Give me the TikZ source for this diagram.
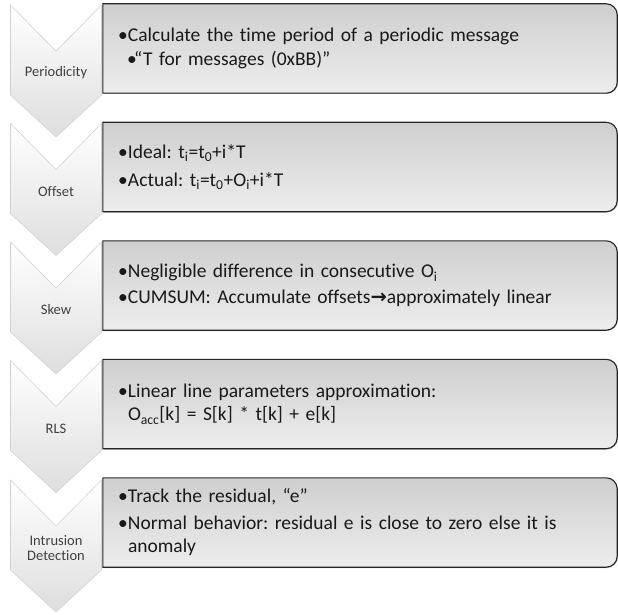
\documentclass[tikz,border=0pt]{standalone}
\usepackage{fontspec}
\setmainfont[Ligatures=NoCommon]{Carlito}
\newfontfamily\arrowfont{DejaVu Sans}
\usetikzlibrary{positioning,backgrounds,shadows}
\frenchspacing

\newcommand{\bul}{\makebox[10pt][l]{\textbullet}}
\newcommand{\subbul}{\hspace*{9pt}\makebox[7pt][l]{\textbullet}}
\newcommand{\ind}{\hspace*{10pt}}

\begin{document}
\begin{tikzpicture}[
  x=1pt,y=1pt,
  chev/.style={draw=gray!35,line width=.6pt,top color=white,bottom color=gray!26},
  lbl/.style={inner sep=0pt,align=center,text=black!75,
    font=\fontsize{14.5}{15.5}\selectfont},
  panel/.style={minimum width=514pt,minimum height=89pt,inner sep=0pt},
  txt/.style={inner sep=0pt,text width=480pt,align=left,
    font=\fontsize{19.5}{23.5}\selectfont,text=black!90},
  frame/.style={draw=black!85,line width=1.1pt,top color=gray!38,bottom color=gray!14,
    drop shadow={shadow xshift=.8pt,shadow yshift=-.8pt,opacity=.5}}
]
\useasboundingbox (0,0) rectangle (618,-615);
% chevron labels
\node[lbl] (per) at (56,-73) {Periodicity};
\node[lbl] (off) at (56,-191.5) {Offset};
\node[lbl] (skw) at (56,-310) {Skew};
\node[lbl] (rls) at (56,-428.5) {RLS};
\node[lbl] (ids) at (56,-548) {Intrusion\\Detection};
% panels
\node[panel] (perbox) at (360,-48.5) {};
\node[panel] (offbox) at (360,-167) {};
\node[panel] (skwbox) at (360,-285.5) {};
\node[panel] (rlsbox) at (360,-404) {};
\node[panel] (idsbox) at (360,-522.5) {};
% panel texts
\node[txt,right=15pt of perbox.west] (pertxt)
  {\bul Calculate the time period of a periodic message\\
   \subbul “T for messages (0xBB)”};
\node[txt,right=15pt of offbox.west] (offtxt)
  {\bul Ideal: t\textsubscript{i}=t\textsubscript{0}+i*T\\[5pt]
   \bul Actual: t\textsubscript{i}=t\textsubscript{0}+O\textsubscript{i}+i*T};
\node[txt,right=15pt of skwbox.west] (skwtxt)
  {\bul Negligible difference in consecutive O\textsubscript{i}\\[2pt]
   \bul CUMSUM: Accumulate offsets{\arrowfont\bfseries →}approximately linear};
\node[txt,right=15pt of rlsbox.west] (rlstxt)
  {\bul Linear line parameters approximation:\\
   \ind O\textsubscript{acc}[k] = S[k] * t[k] + e[k]};
\node[txt,right=15pt of idsbox.west] (idstxt)
  {\bul Track the residual, “e”\\[3pt]
   \bul Normal behavior: residual e is close to zero else it is\\
   \ind anomaly};
\begin{scope}[on background layer]
\foreach \c in {per,off,skw,rls,ids}
  \draw[chev] ([shift={(-45.5,68)}]\c.center) -- ++(45.5,-46) -- ++(45.5,46)
    -- ++(0,-90) -- ++(-45.5,-42) -- ++(-45.5,42) -- cycle;
\foreach \b in {perbox,offbox,skwbox,rlsbox,idsbox}
  \draw[frame] (\b.south west) -- (\b.north west) -- ([xshift=-11pt]\b.north east)
    arc[start angle=90,end angle=0,radius=11pt] -- ([yshift=11pt]\b.south east)
    arc[start angle=0,end angle=-90,radius=11pt] -- cycle;
\end{scope}
\end{tikzpicture}
\end{document}
